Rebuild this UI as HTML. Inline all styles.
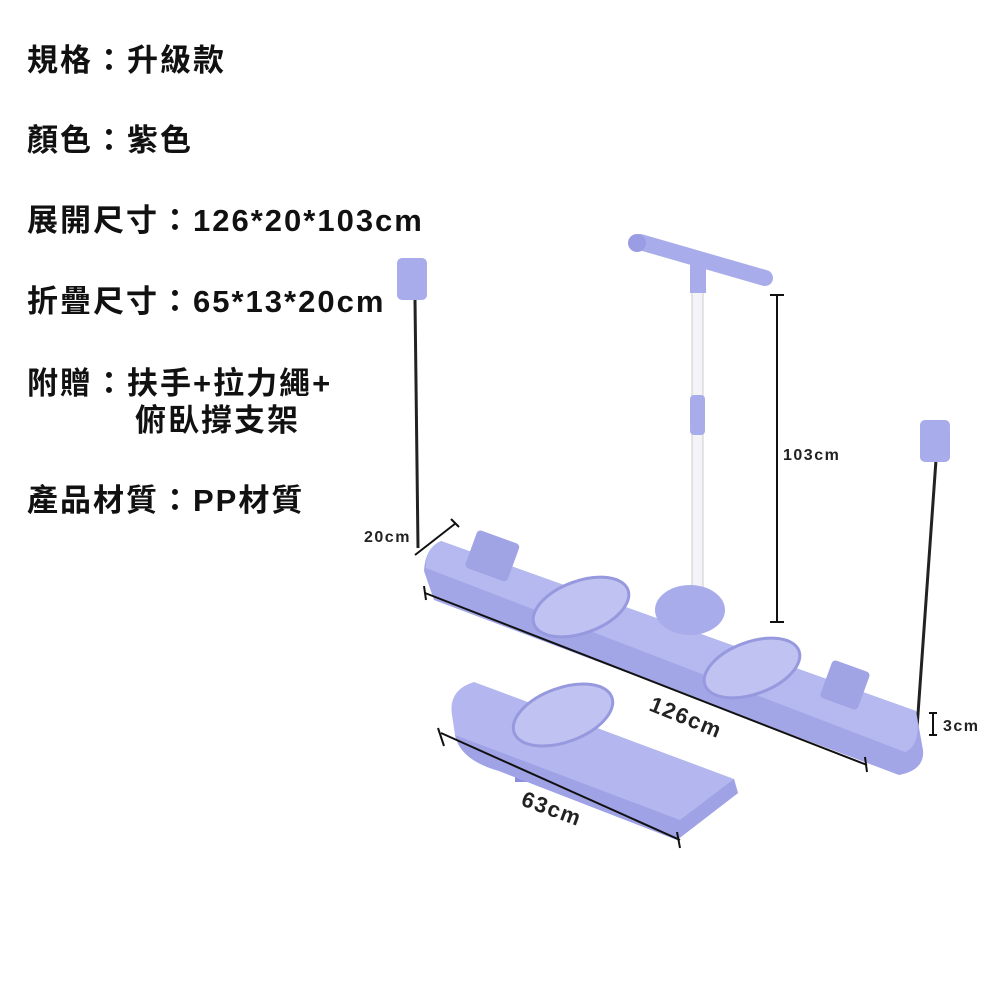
<!DOCTYPE html>
<html><head><meta charset="utf-8"><style>
body{margin:0;width:1000px;height:1000px;background:#fff;overflow:hidden;position:relative}
.t{position:absolute;left:27px;font-family:"Liberation Sans","Noto Sans CJK TC",sans-serif;font-weight:bold;font-size:31px;letter-spacing:2px;color:#111;white-space:nowrap}
.c{display:inline-block;width:34px;text-align:center}
svg{position:absolute;left:0;top:0}
</style></head><body>
<svg width="1000" height="1000" viewBox="0 0 1000 1000">
<rect x="692" y="270" width="11" height="330" fill="#f4f4f8" stroke="#ccc"/>
<rect x="690" y="395" width="15" height="40" rx="4" fill="#a9acea"/>
<path d="M640 242 L765 278" stroke="#a9acea" stroke-width="16" stroke-linecap="round"/>
<circle cx="637" cy="243" r="9" fill="#9a9de4"/>
<rect x="690" y="265" width="16" height="28" fill="#a9acea"/>
<line x1="415" y1="300" x2="418" y2="548" stroke="#222" stroke-width="3"/>
<rect x="397" y="258" width="30" height="42" rx="5" fill="#a9acea"/>
<line x1="936" y1="460" x2="917" y2="728" stroke="#222" stroke-width="3"/>
<rect x="920" y="420" width="30" height="42" rx="5" fill="#a9acea"/>
<path d="M441 541 Q425 548 424 571 L434 600 L899 775 Q925 770 923 750 L916 711 Z" fill="#a3a6e6"/>
<path d="M441 541 Q425 548 426 568 L905 752 Q922 745 916 711 Z" fill="#b6b9f0"/>
<rect x="470" y="535" width="45" height="40" rx="4" fill="#a0a3e4" transform="rotate(20 490 555)"/>
<rect x="825" y="665" width="40" height="40" rx="4" fill="#a0a3e4" transform="rotate(20 845 685)"/>
<ellipse cx="690" cy="610" rx="35" ry="25" fill="#a9acea"/>
<ellipse cx="581" cy="607" rx="50" ry="26" fill="#c0c2f2" stroke="#9699de" stroke-width="3" transform="rotate(-20 581 607)"/>
<ellipse cx="752" cy="668" rx="50" ry="26" fill="#c0c2f2" stroke="#9699de" stroke-width="3" transform="rotate(-20 752 668)"/>
<rect x="515" y="762" width="40" height="20" fill="#8c8fe0"/>
<path d="M474 682 Q448 690 452 715 L455 735 Q460 760 499 771 L677 840 L738 793 L734 779 Z" fill="#b4b7ef"/>
<path d="M455 735 Q460 760 499 771 L677 840 L738 793 L734 779 L680 820 L500 752 Z" fill="#9fa2e4"/>
<ellipse cx="563" cy="715" rx="52" ry="27" fill="#c0c2f2" stroke="#9699de" stroke-width="3" transform="rotate(-20 563 715)"/>
<g stroke="#111" stroke-width="2" fill="none">
<line x1="777" y1="295" x2="777" y2="622"/><line x1="770" y1="295" x2="784" y2="295"/><line x1="770" y1="622" x2="784" y2="622"/>
<line x1="425" y1="593" x2="867" y2="765"/><line x1="424" y1="586" x2="426" y2="600"/><line x1="865" y1="757" x2="867" y2="772"/>
<line x1="441" y1="733" x2="680" y2="840"/><line x1="438" y1="728" x2="444" y2="746"/><line x1="677" y1="832" x2="680" y2="848"/>
<line x1="415" y1="555" x2="456" y2="523"/><line x1="451" y1="519" x2="459" y2="527"/>
<line x1="933" y1="713" x2="933" y2="735"/><line x1="929" y1="713" x2="937" y2="713"/><line x1="929" y1="735" x2="937" y2="735"/>
</g>
<g font-family="Liberation Sans,sans-serif" font-weight="bold" fill="#222">
<text x="783" y="460" font-size="16" letter-spacing="1.5">103cm</text>
<text x="364" y="542" font-size="16" letter-spacing="1.5">20cm</text>
<text x="943" y="731" font-size="16" letter-spacing="1.5">3cm</text>
<text x="648" y="710" font-size="22" letter-spacing="1.5" transform="rotate(22 648 710)">126cm</text>
<text x="520" y="805" font-size="22" letter-spacing="1.5" transform="rotate(20 520 805)">63cm</text>
</g>
</svg>
<div class="t" style="top:35px">規格<span class="c">：</span>升級款</div>
<div class="t" style="top:115px">顏色<span class="c">：</span>紫色</div>
<div class="t" style="top:195px">展開尺寸<span class="c">：</span>126*20*103cm</div>
<div class="t" style="top:276px">折疊尺寸<span class="c">：</span>65*13*20cm</div>
<div class="t" style="top:358px">附贈<span class="c">：</span>扶手+拉力繩+</div>
<div class="t" style="top:395px;left:135px">俯臥撐支架</div>
<div class="t" style="top:475px">產品材質<span class="c">：</span>PP材質</div>
</body></html>
